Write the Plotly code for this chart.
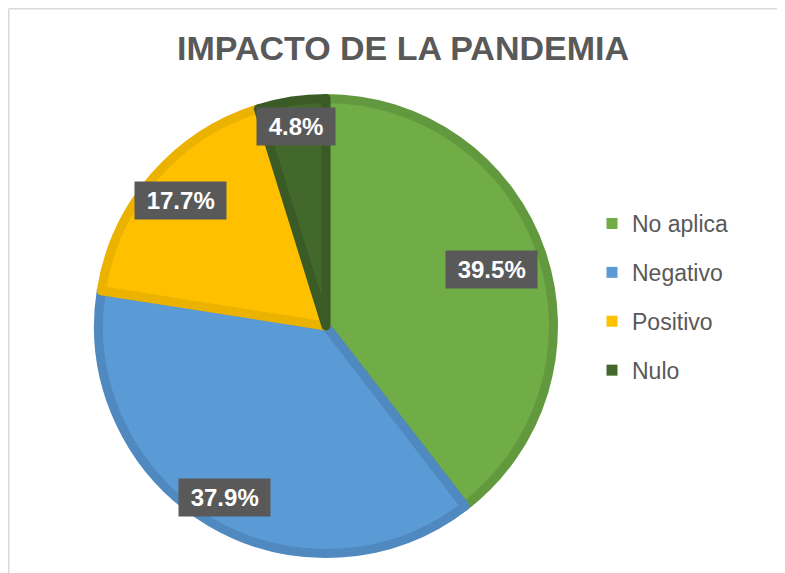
import math
import plotly.graph_objects as go

# ---- data ----
categories = ["No aplica", "Negativo", "Positivo", "Nulo"]
percentages = [39.5, 37.9, 17.7, 4.8]
title_text = "IMPACTO DE LA PANDEMIA"

# ---- style ----
fill_colors = ["#70AD47", "#5B9BD5", "#FFC000", "#43682B"]
edge_colors = ["#63993E", "#5089C0", "#EBB200", "#3A5B25"]
label_radial = [0.755, 0.86, 0.83, 0.87]   # label distance as fraction of radius

OFF = 8                    # page body margin
W, H = 785 - OFF, 573 - OFF
cx, cy = 326 - OFF, 326 - OFF   # pie centre (figure px)
R_outer = 232
line_w = 9
R = R_outer - line_w / 2

fig = go.Figure()

fig.add_trace(go.Pie(
    labels=categories,
    values=percentages,
    sort=False,
    direction="clockwise",
    rotation=0,
    textinfo="none",
    hoverinfo="label+value",
    marker=dict(colors=fill_colors, line=dict(color=edge_colors, width=line_w)),
    domain=dict(x=[(cx - R) / W, (cx + R) / W],
                y=[(H - cy - R) / H, (H - cy + R) / H]),
    showlegend=False,
))

for i, (name, col) in enumerate(zip(categories, fill_colors)):
    fig.add_trace(go.Scatter(
        x=[None], y=[None], mode="markers", name=name,
        marker=dict(symbol="square", size=11, color=col, line=dict(width=0)),
        legendgroup=f"g{i}", showlegend=True, hoverinfo="skip",
    ))

total = sum(percentages)
cum = 0.0
annotations = []
for v, f in zip(percentages, label_radial):
    theta = 2 * math.pi * (cum + v / 2) / total
    cum += v
    px = cx + f * R_outer * math.sin(theta)
    py = cy - f * R_outer * math.cos(theta)
    annotations.append(dict(
        x=px / W, y=1 - py / H, xref="paper", yref="paper",
        text="\u00a0" + f"{v:.1f}%" + "\u00a0",
        showarrow=False, xanchor="center", yanchor="middle",
        font=dict(family="Liberation Sans, Arial, sans-serif", size=24,
                  color="white", weight="bold"),
        bgcolor="#595959", borderpad=5,
    ))

frame = dict(color="#D9D9D9", width=1.5)
fig.update_layout(
    width=W, height=H,
    margin=dict(l=0, r=0, t=0, b=0),
    paper_bgcolor="white", plot_bgcolor="white",
    xaxis=dict(visible=False), yaxis=dict(visible=False),
    title=dict(text=title_text, x=(403 - OFF) / W, xanchor="center",
               y=1 - (48 - OFF) / H, yanchor="middle",
               font=dict(family="Liberation Sans, Arial, sans-serif", size=34,
                         color="#595959", weight="bold")),
    legend=dict(x=(592 - OFF) / W, xanchor="left", y=1 - (297 - OFF) / H,
                yanchor="middle",
                font=dict(family="Liberation Sans, Arial, sans-serif", size=23,
                          color="#595959"),
                tracegroupgap=16, bgcolor="rgba(0,0,0,0)"),
    annotations=annotations,
    shapes=[
        dict(type="line", xref="paper", yref="paper",
             x0=0.75 / W, x1=1.0, y0=1 - 0.75 / H, y1=1 - 0.75 / H,
             line=frame, layer="below"),
        dict(type="line", xref="paper", yref="paper",
             x0=0.75 / W, x1=0.75 / W, y0=0, y1=1 - 0.75 / H,
             line=frame, layer="below"),
    ],
)

fig.write_html("out.html")
